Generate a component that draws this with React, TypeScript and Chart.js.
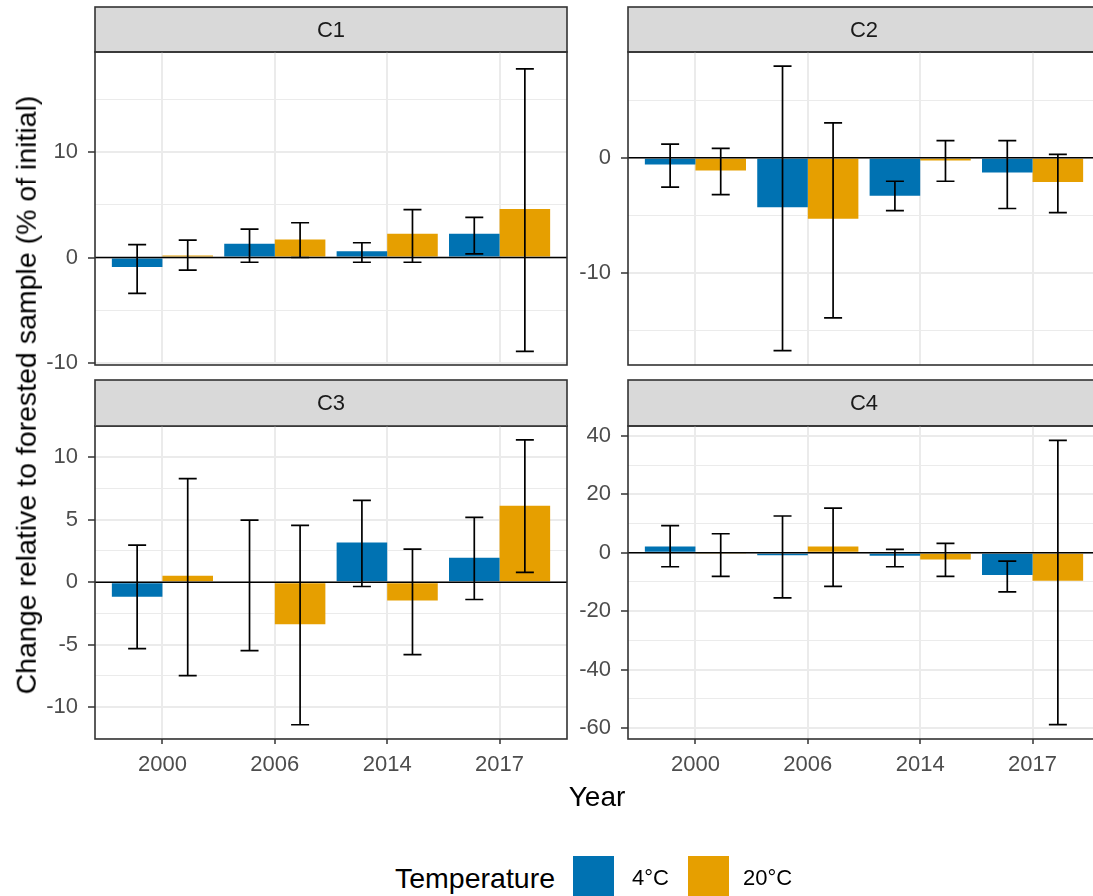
import React, { useEffect, useRef } from 'react';
import { Chart, registerables } from 'chart.js';

Chart.register(...registerables);

const FONT = '"Liberation Sans", Arial, Helvetica, sans-serif';

// ---------- data ----------
const years = ['2000', '2006', '2014', '2017'];
const seriesNames = ['4°C', '20°C'];
const seriesColors = ['#0072B2', '#E69F00'];
const legendTitle = 'Temperature';
const xTitle = 'Year';
const yTitle = 'Change relative to forested sample (% of initial)';

// C1
const c1Cold = [-0.9, 1.3, 0.6, 2.25];
const c1ColdLow = [-3.4, -0.45, -0.45, 0.35];
const c1ColdHigh = [1.23, 2.7, 1.4, 3.8];
const c1Warm = [0.2, 1.7, 2.25, 4.6];
const c1WarmLow = [-1.2, 0.0, -0.45, -8.9];
const c1WarmHigh = [1.65, 3.3, 4.55, 17.9];

// C2
const c2Cold = [-0.58, -4.3, -3.3, -1.28];
const c2ColdLow = [-2.55, -16.75, -4.58, -4.4];
const c2ColdHigh = [1.2, 7.97, -2.03, 1.5];
const c2Warm = [-1.1, -5.3, -0.23, -2.09];
const c2WarmLow = [-3.2, -13.9, -2.03, -4.76];
const c2WarmHigh = [0.83, 3.04, 1.5, 0.31];

// C3
const c3Cold = [-1.18, 0, 3.18, 1.95];
const c3ColdLow = [-5.32, -5.48, -0.35, -1.39];
const c3ColdHigh = [2.97, 4.97, 6.55, 5.19];
const c3Warm = [0.51, -3.37, -1.47, 6.12];
const c3WarmLow = [-7.49, -11.42, -5.8, 0.78];
const c3WarmHigh = [8.29, 4.55, 2.65, 11.39];

// C4
const c4Cold = [2.17, -0.9, -1.0, -7.66];
const c4ColdLow = [-4.8, -15.5, -4.8, -13.4];
const c4ColdHigh = [9.26, 12.57, 1.14, -2.86];
const c4Warm = [-0.3, 2.17, -2.3, -9.6];
const c4WarmLow = [-8.1, -11.5, -8.1, -58.9];
const c4WarmHigh = [6.5, 15.3, 3.2, 38.5];

// y axis ranges and ticks per panel
const c1Y = { min: -10.2, max: 19.5, step: 5, labelStep: 10 };
const c2Y = { min: -18.0, max: 9.2, step: 5, labelStep: 10 };
const c3Y = { min: -12.56, max: 12.5, step: 2.5, labelStep: 5 };
const c4Y = { min: -63.8, max: 43.4, step: 10, labelStep: 20 };

// ---------- layout ----------
const Y_AXIS_W = 65;
const X_AXIS_H = 44;
const PAD = 2;
const LABEL_OVERFLOW = 16;

type Box = { left: number; right: number; top: number; bottom: number; strip: number };
const boxC1: Box = { left: 95, right: 567, top: 52, bottom: 365, strip: 45 };
const boxC2: Box = { left: 628, right: 1100, top: 52, bottom: 365, strip: 45 };
const boxC3: Box = { left: 95, right: 567, top: 426, bottom: 739, strip: 46 };
const boxC4: Box = { left: 628, right: 1100, top: 426, bottom: 739, strip: 46 };

type PanelProps = {
  title: string;
  cold: number[];
  coldLow: number[];
  coldHigh: number[];
  warm: number[];
  warmLow: number[];
  warmHigh: number[];
  y: { min: number; max: number; step: number; labelStep: number };
  box: Box;
  showX: boolean;
};

function isMultiple(v: number, m: number) {
  const r = v / m;
  return Math.abs(r - Math.round(r)) < 1e-6;
}

function Panel(props: PanelProps) {
  const ref = useRef<HTMLCanvasElement | null>(null);
  const { box, showX } = props;
  const xH = showX ? X_AXIS_H : 0;
  const padBottom = showX ? 0 : PAD + LABEL_OVERFLOW;
  const canvasLeft = box.left - Y_AXIS_W;
  const canvasTop = box.top - box.strip - PAD;
  const canvasWidth = box.right + PAD - canvasLeft;
  const canvasHeight = box.bottom + xH + padBottom - canvasTop;

  useEffect(() => {
    if (!ref.current) return;
    const lows = [props.coldLow, props.warmLow];
    const highs = [props.coldHigh, props.warmHigh];
    const stripH = box.strip;
    const title = props.title;

    const panelPlugin = {
      id: 'panelDeco',
      beforeDraw(chart: any) {
        const { ctx, chartArea: a } = chart;
        ctx.save();
        ctx.fillStyle = '#D9D9D9';
        ctx.fillRect(a.left, a.top - stripH, a.right - a.left, stripH);
        ctx.strokeStyle = '#333333';
        ctx.lineWidth = 1.6;
        ctx.strokeRect(a.left, a.top - stripH, a.right - a.left, stripH);
        ctx.fillStyle = '#1A1A1A';
        ctx.font = `22px ${FONT}`;
        ctx.textAlign = 'center';
        ctx.textBaseline = 'middle';
        ctx.fillText(title, (a.left + a.right) / 2, a.top - stripH / 2 + 1);
        ctx.restore();
      },
      afterDatasetsDraw(chart: any) {
        const { ctx, chartArea: a } = chart;
        const yScale = chart.scales.y;
        ctx.save();
        // zero line
        const y0 = yScale.getPixelForValue(0);
        ctx.strokeStyle = '#000000';
        ctx.lineWidth = 1.5;
        ctx.beginPath();
        ctx.moveTo(a.left, y0);
        ctx.lineTo(a.right, y0);
        ctx.stroke();
        // error bars
        ctx.lineWidth = 1.7;
        for (let d = 0; d < 2; d++) {
          const meta = chart.getDatasetMeta(d);
          meta.data.forEach((el: any, j: number) => {
            const x = el.x;
            const yl = yScale.getPixelForValue(lows[d][j]);
            const yh = yScale.getPixelForValue(highs[d][j]);
            ctx.beginPath();
            ctx.moveTo(x, yl);
            ctx.lineTo(x, yh);
            ctx.moveTo(x - 9, yl);
            ctx.lineTo(x + 9, yl);
            ctx.moveTo(x - 9, yh);
            ctx.lineTo(x + 9, yh);
            ctx.stroke();
          });
        }
        // panel border
        ctx.strokeStyle = '#333333';
        ctx.lineWidth = 1.6;
        ctx.strokeRect(a.left, a.top, a.right - a.left, a.bottom - a.top);
        ctx.restore();
      },
    };

    const chart = new Chart(ref.current, {
      type: 'bar',
      data: {
        datasets: [
          {
            label: seriesNames[0],
            data: years.map((_, i) => ({ x: i + 1, y: props.cold[i] })),
            backgroundColor: seriesColors[0],
            borderWidth: 0,
            categoryPercentage: 0.9,
            barPercentage: 1.0,
          },
          {
            label: seriesNames[1],
            data: years.map((_, i) => ({ x: i + 1, y: props.warm[i] })),
            backgroundColor: seriesColors[1],
            borderWidth: 0,
            categoryPercentage: 0.9,
            barPercentage: 1.0,
          },
        ],
      },
      options: {
        responsive: false,
        animation: false,
        devicePixelRatio: 1,
        layout: {
          padding: { left: 0, right: PAD, top: stripH + PAD, bottom: padBottom },
        },
        plugins: {
          legend: { display: false },
          tooltip: { enabled: false },
        },
        scales: {
          x: {
            type: 'linear',
            min: 0.4,
            max: 4.6,
            offset: false,
            afterFit: (s: any) => {
              s.height = xH;
              s.paddingLeft = 0;
              s.paddingRight = 0;
            },
            border: { display: false },
            grid: {
              offset: false,
              color: '#EBEBEB',
              lineWidth: 2,
              drawTicks: showX,
              tickLength: 5,
              tickColor: '#333333',
              tickWidth: 1.5,
            },
            ticks: {
              display: showX,
              stepSize: 1,
              includeBounds: false,
              autoSkip: false,
              maxRotation: 0,
              padding: 8,
              color: '#4D4D4D',
              font: { family: FONT, size: 22 },
              callback: (v: any) => {
                const i = Math.round(Number(v)) - 1;
                return years[i] ?? '';
              },
            },
          },
          y: {
            type: 'linear',
            min: props.y.min,
            max: props.y.max,
            afterFit: (s: any) => {
              s.width = Y_AXIS_W;
              s.paddingTop = 0;
              s.paddingBottom = 0;
            },
            border: { display: false },
            grid: {
              color: '#EBEBEB',
              lineWidth: (c: any) =>
                c.tick && isMultiple(c.tick.value, props.y.labelStep) ? 2 : 1.1,
              tickLength: 7,
              tickWidth: 1.5,
              tickColor: (c: any) =>
                c.tick && isMultiple(c.tick.value, props.y.labelStep) ? '#333333' : 'rgba(0,0,0,0)',
            },
            ticks: {
              stepSize: props.y.step,
              includeBounds: false,
              autoSkip: false,
              padding: 10,
              color: '#4D4D4D',
              font: { family: FONT, size: 22 },
              callback: (v: any) => {
                const n = Number(v);
                return isMultiple(n, props.y.labelStep) ? String(Math.round(n)) : '';
              },
            },
          },
        },
      } as any,
      plugins: [panelPlugin as any],
    });
    return () => chart.destroy();
  }, []);

  return (
    <canvas
      ref={ref}
      width={canvasWidth}
      height={canvasHeight}
      style={{
        position: 'absolute',
        left: canvasLeft,
        top: canvasTop,
        width: canvasWidth,
        height: canvasHeight,
      }}
    />
  );
}

export default function App() {
  return (
    <div
      style={{
        position: 'fixed',
        left: 0,
        top: 0,
        width: 1093,
        height: 896,
        overflow: 'hidden',
        background: '#FFFFFF',
        fontFamily: FONT,
      }}
    >
      <Panel title="C1" cold={c1Cold} coldLow={c1ColdLow} coldHigh={c1ColdHigh} warm={c1Warm} warmLow={c1WarmLow} warmHigh={c1WarmHigh} y={c1Y} box={boxC1} showX={false} />
      <Panel title="C2" cold={c2Cold} coldLow={c2ColdLow} coldHigh={c2ColdHigh} warm={c2Warm} warmLow={c2WarmLow} warmHigh={c2WarmHigh} y={c2Y} box={boxC2} showX={false} />
      <Panel title="C3" cold={c3Cold} coldLow={c3ColdLow} coldHigh={c3ColdHigh} warm={c3Warm} warmLow={c3WarmLow} warmHigh={c3WarmHigh} y={c3Y} box={boxC3} showX={true} />
      <Panel title="C4" cold={c4Cold} coldLow={c4ColdLow} coldHigh={c4ColdHigh} warm={c4Warm} warmLow={c4WarmLow} warmHigh={c4WarmHigh} y={c4Y} box={boxC4} showX={true} />

      <div
        style={{
          position: 'absolute',
          left: 26,
          top: 395,
          transform: 'translate(-50%, -50%) rotate(-90deg)',
          whiteSpace: 'nowrap',
          fontSize: 28.5,
          lineHeight: 1,
          color: '#000000',
        }}
      >
        {yTitle}
      </div>

      <div
        style={{
          position: 'absolute',
          left: 597,
          top: 797,
          transform: 'translate(-50%, -50%)',
          whiteSpace: 'nowrap',
          fontSize: 28,
          lineHeight: 1,
          color: '#000000',
        }}
      >
        {xTitle}
      </div>

      <div style={{ position: 'absolute', left: 395, top: 878, transform: 'translateY(-50%)', fontSize: 28.5, lineHeight: 1, whiteSpace: 'nowrap', color: '#000000' }}>
        {legendTitle}
      </div>
      <div style={{ position: 'absolute', left: 573, top: 856, width: 41, height: 41, background: seriesColors[0] }} />
      <div style={{ position: 'absolute', left: 632, top: 878, transform: 'translateY(-50%)', fontSize: 22, lineHeight: 1, whiteSpace: 'nowrap', color: '#000000' }}>
        {seriesNames[0]}
      </div>
      <div style={{ position: 'absolute', left: 688, top: 856, width: 41, height: 41, background: seriesColors[1] }} />
      <div style={{ position: 'absolute', left: 743, top: 878, transform: 'translateY(-50%)', fontSize: 22, lineHeight: 1, whiteSpace: 'nowrap', color: '#000000' }}>
        {seriesNames[1]}
      </div>
    </div>
  );
}
